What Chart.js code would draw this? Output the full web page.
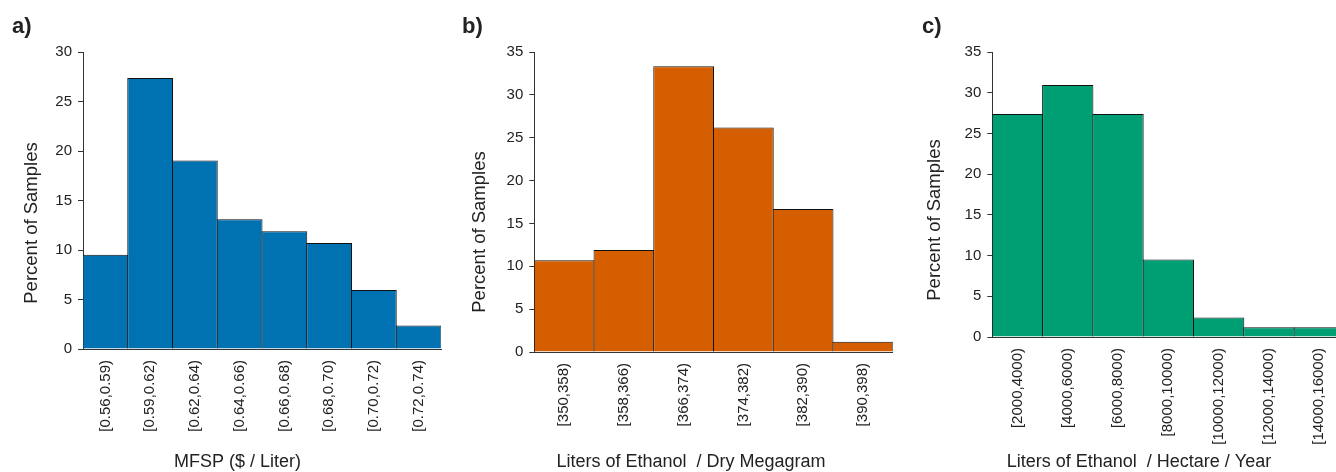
<!DOCTYPE html>
<html>
<head>
<meta charset="utf-8">
<title>Histograms: MFSP, ethanol yield per dry megagram and per hectare</title>
<script src="https://cdn.jsdelivr.net/npm/chart.js@4/dist/chart.umd.min.js"></script>
<style>
  html, body { margin: 0; padding: 0; background: #ffffff; }
  body { width: 1336px; height: 472px; overflow: hidden; position: relative; }
  .panel { position: absolute; top: 0; }
  canvas { display: block; }
</style>
</head>
<body>
<div class="panel" style="left:0px"><canvas id="chartA" width="475" height="472"></canvas></div>
<div class="panel" style="left:450px"><canvas id="chartB" width="450" height="472"></canvas></div>
<div class="panel" style="left:900px"><canvas id="chartC" width="450" height="472"></canvas></div>
<script>
// ---- data: percent of samples in each bin ----
const mfspBins = ['[0.56,0.59)', '[0.59,0.62)', '[0.62,0.64)', '[0.64,0.66)', '[0.66,0.68)', '[0.68,0.70)', '[0.70,0.72)', '[0.72,0.74)'];
const mfspPct = [9.52, 27.38, 19.05, 13.10, 11.90, 10.71, 5.95, 2.38];

const dryMgBins = ['[350,358)', '[358,366)', '[366,374)', '[374,382)', '[382,390)', '[390,398)'];
const dryMgPct = [10.71, 11.90, 33.33, 26.19, 16.67, 1.19];

const hectareBins = ['[2000,4000)', '[4000,6000)', '[6000,8000)', '[8000,10000)', '[10000,12000)', '[12000,14000)', '[14000,16000)'];
const hectarePct = [27.38, 30.95, 27.38, 9.52, 2.38, 1.19, 1.19];

// ---- axis limits / tick step ----
const mfspMax = 30;
const dryMgMax = 35;
const hectareMax = 35;
const tickStep = 5;

// ---- text ----
const yTitle = 'Percent of Samples';
const mfspTitle = 'MFSP ($ / Liter)';
const dryMgTitle = 'Liters of Ethanol  / Dry Megagram';
const hectareTitle = 'Liters of Ethanol  / Hectare / Year';

const FONT = "'Liberation Sans', Arial, Helvetica, sans-serif";
const INK = '#222222';

Chart.defaults.font.family = FONT;
Chart.defaults.color = INK;

// Draws the panel letter and the two axis titles at fixed spots of the canvas
const panelText = {
  id: 'panelText',
  afterDraw(chart, args, opts) {
    const ctx = chart.ctx;
    ctx.save();
    ctx.fillStyle = INK;
    ctx.textBaseline = 'alphabetic';
    ctx.textAlign = 'left';
    ctx.font = 'bold 22px ' + FONT;
    ctx.fillText(opts.letter, opts.letterAt[0], opts.letterAt[1]);

    ctx.font = '18px ' + FONT;
    ctx.textAlign = 'center';
    ctx.fillText(opts.xTitle, opts.xTitleAt[0], opts.xTitleAt[1]);

    ctx.font = '18.5px ' + FONT;
    ctx.translate(opts.yTitleAt[0], opts.yTitleAt[1]);
    ctx.rotate(-Math.PI / 2);
    ctx.textBaseline = 'middle';
    ctx.fillText(opts.yTitle, 0, 0);
    ctx.restore();
  }
};

function histogram(canvasId, bins, values, yMax, color, geom, text) {
  return new Chart(document.getElementById(canvasId), {
    type: 'bar',
    data: {
      labels: bins,
      datasets: [{
        data: values,
        backgroundColor: color,
        borderColor: '#111111',
        borderWidth: 1,
        borderSkipped: 'start',
        inflateAmount: 0,
        categoryPercentage: 1.0,
        barPercentage: geom.barPct
      }]
    },
    options: {
      responsive: false,
      animation: false,
      events: [],
      layout: { padding: { left: 0, right: geom.padRight, top: geom.padTop, bottom: 0 } },
      plugins: {
        legend: { display: false },
        tooltip: { enabled: false },
        panelText: text
      },
      scales: {
        x: {
          grid: { display: false, drawTicks: false },
          border: { display: true, color: '#333333', width: 1 },
          ticks: {
            minRotation: 90,
            maxRotation: 90,
            autoSkip: false,
            padding: 11,
            color: INK,
            font: { size: 15 }
          },
          afterFit(scale) { scale.height = geom.xHeight; }
        },
        y: {
          min: 0,
          max: yMax,
          grid: { drawOnChartArea: false, drawTicks: true, tickLength: 5, color: '#333333' },
          border: { display: true, color: '#333333', width: 1 },
          ticks: {
            stepSize: tickStep,
            padding: 6,
            color: INK,
            font: { size: 15 }
          },
          afterFit(scale) { scale.width = geom.yWidth; }
        }
      }
    },
    plugins: [panelText]
  });
}

histogram('chartA', mfspBins, mfspPct, mfspMax, '#0072B2',
  { barPct: 1.0223, padRight: 34, padTop: 52, xHeight: 123, yWidth: 83 },
  { letter: 'a)', letterAt: [12, 33], xTitle: mfspTitle, xTitleAt: [237.5, 467], yTitle: yTitle, yTitleAt: [32, 223] });

histogram('chartB', dryMgBins, dryMgPct, dryMgMax, '#D55E00',
  { barPct: 1.0167, padRight: 7.3, padTop: 52, xHeight: 120, yWidth: 84.3 },
  { letter: 'b)', letterAt: [12, 33], xTitle: dryMgTitle, xTitleAt: [241, 467], yTitle: yTitle, yTitleAt: [30, 232] });

histogram('chartC', hectareBins, hectarePct, hectareMax, '#009E73',
  { barPct: 1.0199, padRight: 5.6, padTop: 52, xHeight: 135, yWidth: 92.3 },
  { letter: 'c)', letterAt: [22, 33], xTitle: hectareTitle, xTitleAt: [239, 467], yTitle: yTitle, yTitleAt: [34.5, 220] });
</script>
</body>
</html>
